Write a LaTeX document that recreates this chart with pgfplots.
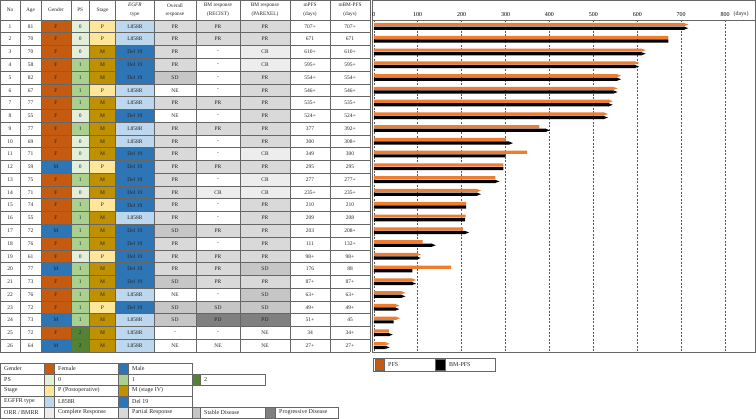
\documentclass[border=0pt]{standalone}
\usepackage{pgfplots}
\pgfplotsset{compat=1.18}
\usepackage{pgfplotstable}
\usepackage{fontspec}
\setmainfont{Liberation Serif}
\definecolor{gF}{HTML}{C55A11}
\definecolor{gM}{HTML}{2E75B6}
\definecolor{p0}{HTML}{E2EFDA}
\definecolor{p1}{HTML}{A9D08E}
\definecolor{p2}{HTML}{548235}
\definecolor{sP}{HTML}{FFE699}
\definecolor{sM}{HTML}{BF9000}
\definecolor{eL}{HTML}{BDD7EE}
\definecolor{eD}{HTML}{2E75B6}
\definecolor{rCR}{HTML}{EDEDED}
\definecolor{rPR}{HTML}{D9D9D9}
\definecolor{rSD}{HTML}{C6C6C6}
\definecolor{rPD}{HTML}{808080}
\definecolor{rNE}{HTML}{FFFFFF}
\definecolor{rZ}{HTML}{FFFFFF}
\definecolor{barO}{HTML}{ED7D31}
\def\eTL{L858R}\def\eTD{Del 19}
\def\rTPR{PR}\def\rTSD{SD}\def\rTCR{CR}\def\rTPD{PD}\def\rTNE{NE}\def\rTZ{-}
\pgfdeclareplotmark{tipR}{%
  \pgfpathmoveto{\pgfqpoint{-0.3pt}{1.6pt}}%
  \pgfpathlineto{\pgfqpoint{4pt}{0pt}}%
  \pgfpathlineto{\pgfqpoint{-0.3pt}{-1.6pt}}%
  \pgfpathclose\pgfusepathqfill}
\pgfplotstableread{
no pfs bm
1 707 707
2 671 671
3 610 610
4 595 595
5 554 554
6 546 546
7 535 535
8 524 524
9 377 392
10 300 308
11 349 300
12 295 295
13 277 277
14 235 235
15 210 210
16 209 208
17 203 208
18 111 132
19 98 98
20 176 88
21 87 87
22 63 63
23 49 49
24 51 45
25 34 34
26 27 27
}\bardata
\pgfplotstableread{
no pfs
1 707
3 610
4 595
5 554
6 546
7 535
8 524
14 235
19 98
21 87
22 63
23 49
24 51
26 27
}\pfscens
\pgfplotstableread{
no bm
1 707
3 610
4 595
5 554
6 546
7 535
8 524
9 392
10 308
13 277
14 235
17 208
18 132
19 98
21 87
22 63
23 49
25 34
26 27
}\bmcens
\begin{document}
\begin{tikzpicture}
\begin{scope}[x=1pt,y=-1pt,
  every node/.append style={font=\fontsize{5.5}{6}\selectfont, inner sep=0pt, text=black!85},
  tb/.style={draw=black!60, line width=0.55pt},
  hdr/.style={font=\fontsize{5.3}{8.5}\selectfont, align=center},
  lg/.style={font=\fontsize{6}{7}\selectfont, anchor=west}]
\useasboundingbox (0,0) rectangle (756,419);
% table body
\foreach \vN/\vA/\vG/\vP/\vS/\vE/\vO/\vR/\vQ/\vM/\vB in {
1/81/F/0/P/L/PR/PR/PR/707+/707+,
2/70/F/0/P/L/PR/PR/PR/671/671,
3/70/F/0/M/D/PR/Z/CR/610+/610+,
4/58/F/1/M/D/PR/Z/CR/595+/595+,
5/82/F/1/M/D/SD/Z/PR/554+/554+,
6/67/F/1/P/L/NE/Z/PR/546+/546+,
7/77/F/1/M/L/PR/PR/PR/535+/535+,
8/55/F/0/M/D/NE/Z/PR/524+/524+,
9/77/F/1/M/L/PR/PR/PR/377/392+,
10/69/F/0/M/L/PR/Z/PR/300/308+,
11/71/F/0/M/D/PR/Z/CR/349/300,
12/59/M/0/P/D/PR/PR/PR/295/295,
13/75/F/1/M/D/PR/Z/CR/277/277+,
14/71/F/0/M/D/PR/CR/CR/235+/235+,
15/74/F/1/P/D/PR/Z/PR/210/210,
16/55/F/1/M/L/PR/Z/PR/209/208,
17/72/M/1/M/D/SD/PR/PR/203/208+,
18/76/F/1/M/D/PR/Z/PR/111/132+,
19/61/F/0/P/D/PR/PR/PR/98+/98+,
20/77/M/1/M/D/PR/PR/SD/176/88,
21/73/F/1/M/D/SD/PR/PR/87+/87+,
22/76/F/1/M/L/NE/Z/SD/63+/63+,
23/72/F/1/P/D/SD/SD/SD/49+/49+,
24/73/M/1/M/L/SD/PD/PD/51+/45,
25/72/F/2/M/L/Z/Z/NE/34/34+,
26/64/M/2/M/L/NE/NE/NE/27+/27+}{
  \pgfmathsetmacro\ya{20+(\vN-1)*12.7692}
  \pgfmathsetmacro\yb{\ya+12.7692}
  \pgfmathsetmacro\yc{\ya+6.3846}
  \fill[g\vG] (41,\ya) rectangle (71,\yb);
  \fill[p\vP] (71,\ya) rectangle (89.3,\yb);
  \fill[s\vS] (89.3,\ya) rectangle (115.7,\yb);
  \fill[e\vE] (115.7,\ya) rectangle (154,\yb);
  \fill[r\vO] (154,\ya) rectangle (196,\yb);
  \fill[r\vR] (196,\ya) rectangle (240,\yb);
  \fill[r\vQ] (240,\ya) rectangle (290,\yb);
  \node at (10,\yc) {\vN};
  \node at (30.5,\yc) {\vA};
  \node at (56,\yc) {\vG};
  \node at (80.2,\yc) {\vP};
  \node at (102.5,\yc) {\vS};
  \node at (134.9,\yc) {\csname eT\vE\endcsname};
  \node at (175,\yc) {\csname rT\vO\endcsname};
  \node at (218,\yc) {\csname rT\vR\endcsname};
  \node at (265,\yc) {\csname rT\vQ\endcsname};
  \node at (310,\yc) {\vM};
  \node at (350,\yc) {\vB};
}
% header
\node[hdr] at (10,10) {No};
\node[hdr] at (30.5,10) {Age};
\node[hdr] at (56,10) {Gender};
\node[hdr] at (80.2,10) {PS};
\node[hdr] at (102.5,10) {Stage};
\node[hdr] at (134.9,10) {\textit{EGFR}\\type};
\node[hdr] at (175,10) {Overall\\response};
\node[hdr] at (218,10) {BM response\\(RECIST)};
\node[hdr] at (265,10) {BM response\\(PAREXEL)};
\node[hdr] at (310,10) {mPFS\\(days)};
\node[hdr] at (350,10) {mBM-PFS\\(days)};
% grid lines
\draw[tb] (0,0) -- (370,0);
\foreach \k in {0,...,26} {\pgfmathsetmacro\yy{20+\k*12.7692}\draw[tb] (0,\yy) -- (370,\yy);}
\foreach \xx in {0,20,41,71,89.3,115.7,154,196,240,290,330,370} {\draw[tb] (\xx,0) -- (\xx,352);}
% chart header box
\draw[tb] (372.5,0) rectangle (755,20);
\node[font=\fontsize{6}{7}\selectfont, anchor=base] at (741,15.7) {(days)};
% chart legend
\draw[tb] (373.5,358.5) rectangle (495.5,371);
\filldraw[fill=gF, draw=black!60, line width=0.4pt] (375,359.5) rectangle (384,370);
\filldraw[fill=black, draw=black!60, line width=0.4pt] (435,359.5) rectangle (445,370);
\node[lg] at (388,364.7) {PFS};
\node[lg] at (449,364.7) {BM-PFS};
% category legend
\fill[gF] (44,363) rectangle (54,374); \fill[gM] (118,363) rectangle (128,374);
\fill[p0] (44,374) rectangle (54,385); \fill[p1] (118,374) rectangle (128,385); \fill[p2] (192,374) rectangle (200,385);
\fill[sP] (44,385) rectangle (54,396); \fill[sM] (118,385) rectangle (128,396);
\fill[eL] (44,396) rectangle (54,407); \fill[eD] (118,396) rectangle (128,407);
\fill[rCR] (44,407) rectangle (54,418); \fill[rPR] (118,407) rectangle (128,418);
\fill[rSD] (192,407) rectangle (200,418); \fill[rPD] (265,407) rectangle (275,418);
\draw[tb] (0,363) rectangle (192,374);
\draw[tb] (0,374) rectangle (265,385);
\draw[tb] (0,385) rectangle (192,396);
\draw[tb] (0,396) rectangle (192,407);
\draw[tb] (0,407) rectangle (338,418);
\foreach \xx in {44,54,118,128} {\draw[tb] (\xx,363) -- (\xx,418);}
\draw[tb] (192,374) -- (192,385); \draw[tb] (200,374) -- (200,385);
\draw[tb] (192,407) -- (192,418); \draw[tb] (200,407) -- (200,418);
\draw[tb] (265,407) -- (265,418); \draw[tb] (275,407) -- (275,418);
\node[lg] at (4,368.5) {Gender};
\node[lg] at (58,368.5) {Female};
\node[lg] at (132,368.5) {Male};
\node[lg] at (4,379.5) {PS};
\node[lg] at (58,379.5) {0};
\node[lg] at (132,379.5) {1};
\node[lg] at (204,379.5) {2};
\node[lg] at (4,390.5) {Stage};
\node[lg] at (58,390.5) {P (Postoperative)};
\node[lg] at (132,390.5) {M (stage IV)};
\node[lg] at (4,401.5) {EGFFR type};
\node[lg] at (58,401.5) {L858R};
\node[lg] at (132,401.5) {Del 19};
\node[lg] at (4,412.5) {ORR / BMRR};
\node[lg] at (58,412.5) {Complete Response};
\node[lg] at (132,412.5) {Partial Response};
\node[lg] at (204,412.5) {Stable Disease};
\node[lg] at (279,412.5) {Progressive Disease};
\end{scope}
\begin{axis}[
  at={(372.5pt,-352pt)}, anchor=south west,
  width=382.5pt, height=332pt, scale only axis,
  xmin=-3, xmax=868, ymin=0.5, ymax=26.5, y dir=reverse,
  ytick=\empty,
  xtick={0,100,...,800},
  xticklabel pos=upper,
  major tick length=0pt,
  tick label style={font=\fontsize{6}{7}\selectfont},
  /pgf/number format/assume math mode=true,
  xticklabel style={yshift=-0.5pt},
  xmajorgrids,
  major grid style={dash pattern=on 2pt off 1.5pt, black!65, line width=0.5pt},
  axis line style={black!60, line width=0.55pt},
]
\addplot[xbar, bar width=3.2pt, bar shift=0pt, fill=barO, draw=none] table[x=pfs, y expr=\thisrow{no}-0.14]{\bardata};
\addplot[xbar, bar width=3.2pt, bar shift=0pt, fill=black, draw=none] table[x=bm, y expr=\thisrow{no}+0.14]{\bardata};
\addplot[only marks, mark=tipR, mark options={fill=barO, draw=none}] table[x=pfs, y expr=\thisrow{no}-0.14]{\pfscens};
\addplot[only marks, mark=tipR, mark options={fill=black, draw=none}] table[x=bm, y expr=\thisrow{no}+0.14]{\bmcens};
\end{axis}
\end{tikzpicture}
\end{document}
